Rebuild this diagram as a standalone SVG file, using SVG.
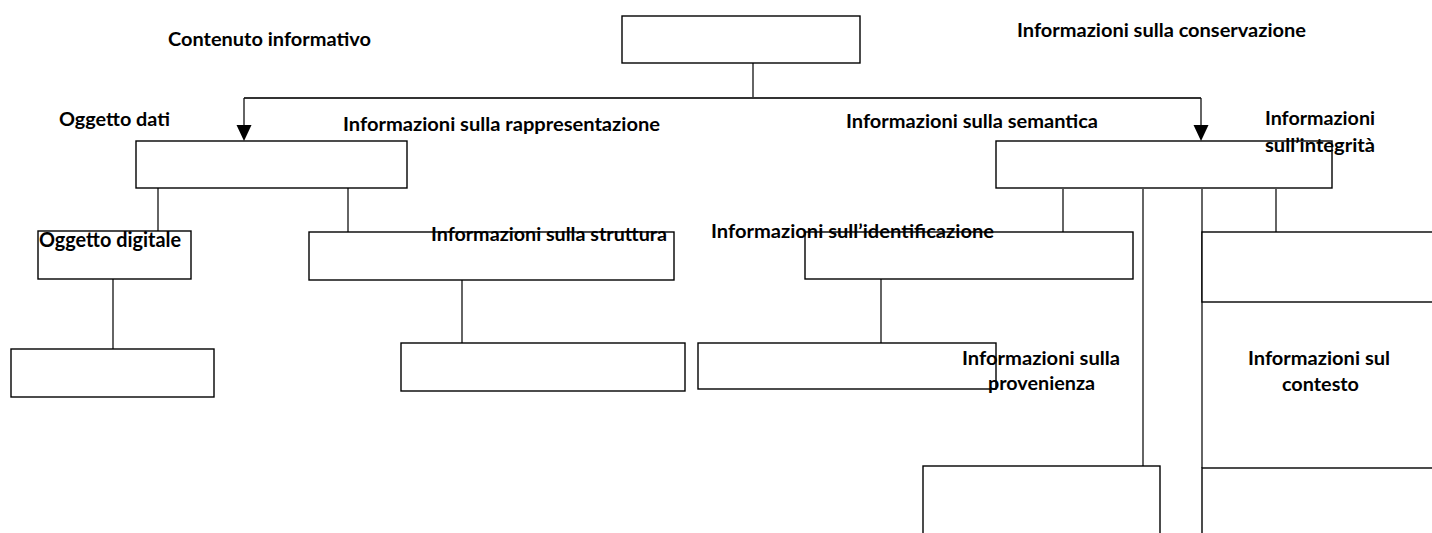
<svg xmlns="http://www.w3.org/2000/svg" width="1432" height="533" viewBox="0 0 1432 533">
  <style>
    .box { fill: #ffffff; stroke: #000000; stroke-width: 1.4; }
    .link { fill: none; stroke: #111111; stroke-width: 1.3; }
    .bus { fill: none; stroke: #333333; stroke-width: 2; }
    .lbl { font-family: Lato, "Open Sans", "Liberation Sans", sans-serif; font-weight: bold; font-size: 19px; fill: #000000; }
    .big { font-size: 21px; }
  </style>

  <rect width="1432" height="533" fill="#ffffff"/>

  <!-- connectors -->
  <g id="connectors">
    <path class="link" d="M753,63 V98"/>
    <path class="bus" d="M244,98 H1201"/>
    <path class="link" d="M244,98 V125"/>
    <path class="link" d="M1201,98 V125"/>
    <path d="M236.5,125 L251.5,125 L244,141 Z" fill="#000000"/>
    <path d="M1193.5,125 L1208.5,125 L1201,141 Z" fill="#000000"/>
    <path class="link" d="M158,188 V231"/>
    <path class="link" d="M348,188 V232"/>
    <path class="link" d="M113,279 V349"/>
    <path class="link" d="M462,280 V343"/>
    <path class="link" d="M1063,189 V232"/>
    <path class="link" d="M881,279 V343"/>
    <path class="link" d="M1143,189 V466"/>
    <path class="link" d="M1202,189 V468"/>
    <path class="link" d="M1276,189 V232"/>
  </g>

  <!-- root: conservation package -->
  <g id="node-root">
    <rect class="box" x="622" y="16" width="238" height="47"/>
  </g>

  <!-- content information branch -->
  <g id="node-oggetto-dati">
    <rect class="box" x="136" y="141" width="271" height="47"/>
  </g>
  <g id="node-oggetto-digitale">
    <rect class="box" x="38" y="231" width="153" height="48"/>
  </g>
  <g id="node-digitale-child">
    <rect class="box" x="11" y="349" width="203" height="48"/>
  </g>
  <g id="node-struttura">
    <rect class="box" x="309" y="232" width="365" height="48"/>
  </g>
  <g id="node-struttura-child">
    <rect class="box" x="401" y="343" width="284" height="48"/>
  </g>

  <!-- preservation description branch -->
  <g id="node-conservazione">
    <rect class="box" x="996" y="141" width="336" height="47"/>
  </g>
  <g id="node-identificazione">
    <rect class="box" x="805" y="232" width="328" height="47"/>
  </g>
  <g id="node-identificazione-child">
    <rect class="box" x="698" y="343" width="298" height="46"/>
  </g>
  <g id="node-integrita">
    <rect class="box" x="1202" y="232" width="240" height="70"/>
  </g>
  <g id="node-provenienza">
    <rect class="box" x="923" y="466" width="237" height="80"/>
  </g>
  <g id="node-contesto">
    <rect class="box" x="1202" y="468" width="240" height="80"/>
  </g>

  <!-- labels -->
  <g id="labels">
    <text class="lbl" x="168" y="46" textLength="203" lengthAdjust="spacingAndGlyphs">Contenuto informativo</text>
    <text class="lbl" x="1017" y="37" textLength="289" lengthAdjust="spacingAndGlyphs">Informazioni sulla conservazione</text>
    <text class="lbl" x="59" y="126" textLength="111" lengthAdjust="spacingAndGlyphs">Oggetto dati</text>
    <text class="lbl" x="343" y="131" textLength="317" lengthAdjust="spacingAndGlyphs">Informazioni sulla rappresentazione</text>
    <text class="lbl" x="846" y="128" textLength="252" lengthAdjust="spacingAndGlyphs">Informazioni sulla semantica</text>
    <text class="lbl" x="1265" y="125" textLength="110" lengthAdjust="spacingAndGlyphs">Informazioni</text>
    <text class="lbl" x="1265" y="152" textLength="110" lengthAdjust="spacingAndGlyphs">sull’integrità</text>
    <text class="lbl big" x="39" y="247" textLength="142" lengthAdjust="spacingAndGlyphs">Oggetto digitale</text>
    <text class="lbl" x="431" y="241" textLength="236" lengthAdjust="spacingAndGlyphs">Informazioni sulla struttura</text>
    <text class="lbl" x="711" y="238" textLength="283" lengthAdjust="spacingAndGlyphs">Informazioni sull’identificazione</text>
    <text class="lbl" x="962" y="365" textLength="158" lengthAdjust="spacingAndGlyphs">Informazioni sulla</text>
    <text class="lbl" x="988" y="390" textLength="107" lengthAdjust="spacingAndGlyphs">provenienza</text>
    <text class="lbl" x="1248" y="365" textLength="142" lengthAdjust="spacingAndGlyphs">Informazioni sul</text>
    <text class="lbl" x="1282" y="391" textLength="77" lengthAdjust="spacingAndGlyphs">contesto</text>
  </g>
</svg>
